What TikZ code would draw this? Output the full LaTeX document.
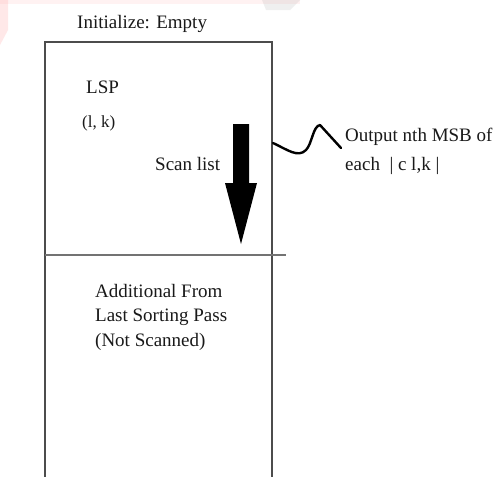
\documentclass[tikz,border=0pt]{standalone}
\usepackage{fontspec}
\setmainfont{Liberation Serif}
\begin{document}
\begin{tikzpicture}[x=1pt,y=-1pt,
  lbl/.style={anchor=base west,inner sep=0pt,font=\fontsize{19}{24.5}\selectfont,text=black!90},
  boxline/.style={draw=black!70,line width=1.3pt},
  divline/.style={draw=black!55,line width=2pt},
  squig/.style={draw=black,line width=2.4pt,line cap=round,line join=round}]
\useasboundingbox (0,0) rectangle (504,477);
\fill[white] (0,0) rectangle (504,477);
% faint watermark remnants
\fill[red!60,opacity=0.15] (0,0) -- (8,0) -- (8,30) -- (0,45) -- cycle;
\fill[red!40,opacity=0.12] (0,0) rectangle (300,4);
\fill[black!40,opacity=0.15] (262,0) -- (300,0) -- (290,10) -- (266,10) -- cycle;
% nodes
\node[lbl] (init) at (77,28) {Initialize: Empty};
\coordinate (tl) at (45,42);
\coordinate (tr) at (272,42);
\coordinate (bl) at (45,477);
\coordinate (br) at (272,477);
\coordinate (dl) at (45,255);
\coordinate (dr) at (286,255);
\draw[boxline] (bl) -- (tl) -- (tr) -- (br);
\draw[divline] (dl) -- (dr);
\node[lbl] (lsp) at (86,93) {LSP};
\node[lbl,font=\fontsize{17}{20}\selectfont] (lk) at (82,127) {(l, k)};
\node[lbl] (scan) at (155,170) {Scan list};
% big arrow
\fill[black] (233,124) -- (249,124) -- (249,183) -- (257,183) -- (241,244) -- (225,183) -- (233,183) -- cycle;
% squiggle
\coordinate (sq0) at (273,143);
\coordinate (sq1) at (320,125);
\coordinate (sq2) at (341,148);
\draw[squig] (sq0) .. controls (288,150) and (298,158) .. (306,150)
  .. controls (312,144) and (313,126) .. (sq1) -- (sq2);
\node[lbl] (out1) at (345,141) {Output nth MSB of};
\node[lbl] (out2) at (345,170) {each\ \ | c l,k |};
\node[lbl,align=left,anchor=north west] (add) at (95,284) {Additional From\\Last Sorting Pass\\(Not Scanned)};
\end{tikzpicture}
\end{document}
